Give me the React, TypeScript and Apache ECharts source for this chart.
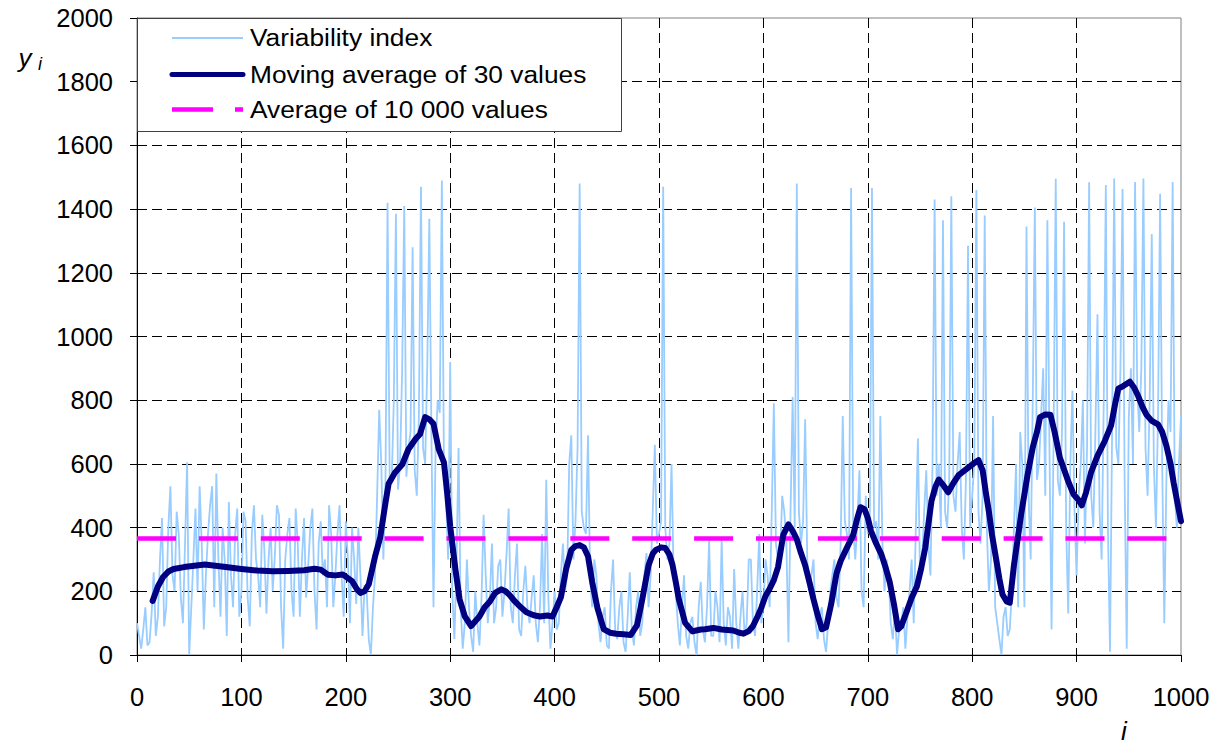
import React, { useEffect, useRef } from "react";
import * as echarts from "echarts";

// ---------- data ----------
const VAR_STEP = 2; // variability index read every 2 values of i
const variabilityIndex: number[] = [
  // 0 - 98
  100, 60, 20, 80, 150, 30, 40, 130, 260, 60, 120, 300, 430, 90, 150, 400, 530, 250, 200, 450,
  380, 180, 100, 350, 605, 0, 150, 300, 460, 200, 530, 350, 80, 250, 380, 470, 530, 150, 570, 300,
  120, 400, 300, 60, 480, 250, 150, 380, 460, 120,
  // 100 - 198
  200, 450, 420, 180, 90, 380, 470, 300, 250, 150, 440, 330, 130, 300, 400, 200, 310, 470, 440, 150,
  20, 300, 380, 430, 200, 120, 460, 350, 120, 300, 430, 180, 280, 400, 460, 200, 80, 350, 420, 250,
  300, 150, 470, 380, 150, 250, 380, 470, 250, 120,
  // 200 - 298
  420, 300, 100, 400, 300, 160, 400, 250, 60, 220, 200, 50, 0, 150, 250, 500, 770, 600, 300, 550,
  1420, 560, 550, 800, 1385, 520, 600, 900, 1410, 560, 650, 700, 1280, 580, 500, 750, 1470, 650, 600, 900,
  1370, 700, 150, 650, 800, 760, 1490, 600, 500, 300,
  // 300 - 398
  920, 200, 50, 280, 650, 150, 20, 100, 300, 150, 60, 10, 200, 100, 30, 180, 440, 250, 100, 180,
  350, 100, 150, 280, 300, 120, 200, 320, 460, 150, 100, 250, 350, 80, 60, 200, 280, 150, 100, 180,
  250, 100, 40, 150, 380, 100, 550, 180, 20, 100,
  // 400 - 498
  200, 80, 100, 250, 350, 200, 250, 600, 690, 300, 420, 650, 1480, 450, 400, 380, 690, 250, 150, 300,
  250, 100, 40, 120, 150, 30, 20, 200, 300, 80, 50, 150, 200, 40, 10, 120, 260, 80, 30, 150,
  200, 60, 100, 250, 320, 150, 250, 450, 660, 350,
  // 500 - 598
  380, 420, 1470, 400, 300, 350, 600, 250, 200, 100, 30, 150, 250, 60, 20, 100, 120, 40, 0, 150,
  230, 80, 40, 150, 360, 60, 60, 200, 150, 40, 360, 100, 30, 150, 120, 20, 270, 100, 20, 120,
  200, 60, 100, 300, 300, 100, 60, 200, 380, 100,
  // 600 - 698
  150, 300, 250, 150, 450, 790, 350, 300, 300, 500, 450, 350, 40, 450, 810, 400, 1480, 450, 350, 420,
  740, 300, 200, 250, 300, 100, 50, 120, 150, 50, 10, 100, 200, 250, 300, 180, 150, 350, 750, 420,
  380, 300, 1466, 400, 300, 420, 580, 200, 150, 500,
  // 700 - 798
  380, 450, 1466, 400, 420, 300, 750, 350, 200, 300, 250, 100, 50, 150, 0, 80, 100, 150, 20, 120,
  200, 300, 100, 400, 680, 250, 300, 450, 580, 350, 250, 600, 1430, 500, 600, 400, 1365, 450, 400, 550,
  1440, 500, 450, 600, 700, 400, 300, 550, 1285, 400,
  // 800 - 898
  500, 600, 1460, 450, 350, 500, 1380, 400, 200, 300, 750, 150, 100, 50, 0, 120, 150, 60, 80, 200,
  400, 600, 150, 700, 600, 150, 1345, 500, 300, 800, 1405, 550, 600, 750, 900, 500, 1365, 650, 80, 700,
  1495, 550, 500, 700, 1360, 400, 130, 600, 830, 450,
  // 900 - 1000
  250, 500, 600, 800, 350, 650, 1484, 500, 400, 700, 1070, 450, 300, 800, 1476, 400, 10, 700, 1496, 650,
  600, 900, 1463, 550, 20, 750, 900, 600, 1485, 850, 700, 900, 1496, 650, 500, 800, 1322, 600, 400, 750,
  1448, 600, 100, 550, 800, 700, 1485, 500, 400, 600, 750,
];

const movingAvgI: number[] = [
  15, 20, 25, 30, 35, 45, 55, 65, 75, 85, 100, 115, 130, 145, 160, 170, 176, 183, 190, 197, 206, 211, 214, 218, 222, 228, 233,
  238, 241, 247, 254, 260, 267, 271, 276, 280, 284, 289, 294, 297, 300, 305, 309, 314, 320, 328, 333, 338, 343, 349, 353, 357,
  362, 366, 373, 380, 386, 393, 398, 402, 406, 411, 416, 420, 424, 428, 432, 436, 441, 447, 453, 459, 466, 473, 479, 484, 490,
  494, 497, 502, 506, 510, 513, 516, 519, 525, 532, 540, 544, 552, 560, 571, 577, 581, 586, 590, 595, 598, 602, 606, 610, 614,
  619, 624, 628, 632, 636, 640, 644, 648, 652, 656, 660, 665, 670, 674, 678, 686, 690, 693, 697, 700, 703, 708, 713, 717, 721,
  725, 729, 732, 737, 742, 747, 751, 755, 758, 761, 765, 768, 773, 777, 782, 787, 791, 795, 800, 806, 810, 813, 816, 819, 823,
  826, 829, 833, 836, 840, 847, 853, 858, 862, 865, 870, 875, 879, 884, 887, 892, 897, 901, 905, 909, 914, 920, 927, 933, 937,
  940, 945, 951, 955, 959, 963, 967, 972, 978, 982, 986, 990, 993, 997, 1000,
];
const movingAvgY: number[] = [
  170, 215, 245, 262, 270, 276, 280, 284, 280, 276, 270, 265, 263, 264, 266, 271, 268, 252, 250, 253, 232, 205, 195, 200, 222, 309, 370,
  478, 538, 572, 598, 646, 679, 693, 747, 740, 726, 646, 605, 511, 404, 269, 175, 121, 91, 121, 150, 168, 195, 206, 200, 188,
  168, 155, 134, 125, 121, 124, 121, 150, 181, 269, 330, 342, 345, 338, 310, 229, 148, 81, 70, 67, 65, 63, 94, 175, 282,
  318, 330, 338, 336, 315, 282, 230, 175, 101, 74, 80, 81, 85, 80, 77, 70, 67, 75, 91, 125, 148, 185, 208, 235, 276,
  377, 410, 390, 363, 320, 282, 230, 175, 125, 81, 87, 161, 256, 295, 323, 377, 430, 464, 457, 430, 390, 350, 316, 275, 229,
  160, 81, 90, 134, 180, 215, 270, 336, 410, 484, 530, 551, 530, 511, 540, 565, 575, 585, 598, 612, 580, 511, 450, 377, 300,
  240, 190, 168, 164, 282, 444, 565, 652, 700, 747, 755, 754, 699, 619, 592, 545, 505, 490, 470, 510, 575, 625, 672, 720, 790,
  836, 845, 858, 840, 813, 780, 754, 735, 724, 700, 657, 600, 540, 470, 420,
];

const AVERAGE_10000 = 366;
const X_MIN = 0;
const X_MAX = 1000;
const X_INTERVAL = 100;
const Y_MIN = 0;
const Y_MAX = 2000;
const Y_INTERVAL = 200;

const legendLabels = ["Variability index", "Moving average of 30 values", "Average of 10 000 values"];

// ---------- styles ----------
const FONT = '"Liberation Sans", Arial, Helvetica, sans-serif';
const LIGHT_BLUE = "#99CCFF";
const NAVY = "#000080";
const MAGENTA = "#FF00FF";

export default function App() {
  const ref = useRef<HTMLDivElement>(null);

  useEffect(() => {
    if (!ref.current) return;
    const chart = echarts.init(ref.current, undefined, { renderer: "svg" });

    const varData = variabilityIndex.map((v, k) => [k * VAR_STEP, v]);
    const maData = movingAvgI.map((i, k) => [i, movingAvgY[k]]);
    const avgData = [
      [X_MIN, AVERAGE_10000],
      [X_MAX, AVERAGE_10000],
    ];

    const gridLine = { color: "#000", width: 1, type: [10, 5] as number[] };
    const plain = (v: number) => String(v);

    const legendRowsY = [38, 74.5, 109.5];

    const option: any = {
      animation: false,
      backgroundColor: "#ffffff",
      grid: {
        left: 137,
        right: 43,
        top: 18,
        bottom: 92,
        show: true,
        borderColor: "#808080",
        borderWidth: 1,
        backgroundColor: "transparent",
      },
      xAxis: {
        type: "value",
        min: X_MIN,
        max: X_MAX,
        interval: X_INTERVAL,
        axisLine: { show: true, onZero: false, lineStyle: { color: "#000", width: 1 } },
        axisTick: { show: true, length: 7, lineStyle: { color: "#000" } },
        axisLabel: { color: "#000", fontSize: 25.5, fontFamily: FONT, margin: 29, formatter: plain },
        splitLine: { show: true, showMinLine: false, showMaxLine: false, lineStyle: gridLine },
      },
      yAxis: {
        type: "value",
        min: Y_MIN,
        max: Y_MAX,
        interval: Y_INTERVAL,
        axisLine: { show: true, onZero: false, lineStyle: { color: "#000", width: 1 } },
        axisTick: { show: true, length: 7, lineStyle: { color: "#000" } },
        axisLabel: { color: "#000", fontSize: 25.5, fontFamily: FONT, margin: 24, formatter: plain },
        splitLine: { show: true, showMinLine: false, showMaxLine: false, lineStyle: gridLine },
      },
      series: [
        {
          name: legendLabels[0],
          type: "line",
          data: varData,
          showSymbol: false,
          symbol: "none",
          lineStyle: { color: LIGHT_BLUE, width: 1.8 },
          z: 2,
        },
        {
          name: legendLabels[2],
          type: "line",
          data: avgData,
          showSymbol: false,
          symbol: "none",
          lineStyle: { color: MAGENTA, width: 4.5, type: [39, 22.9] },
          z: 3,
        },
        {
          name: legendLabels[1],
          type: "line",
          data: maData,
          showSymbol: false,
          symbol: "none",
          lineStyle: { color: NAVY, width: 6, cap: "round", join: "round" },
          z: 4,
        },
      ],
      graphic: [
        {
          type: "rect",
          z: 100,
          shape: { x: 137.5, y: 18.5, width: 484, height: 113 },
          style: { fill: "#fff", stroke: "#404040", lineWidth: 1 },
        },
        {
          type: "line",
          z: 101,
          shape: { x1: 172, y1: legendRowsY[0], x2: 243, y2: legendRowsY[0] },
          style: { stroke: LIGHT_BLUE, lineWidth: 2 },
        },
        {
          type: "line",
          z: 101,
          shape: { x1: 172, y1: legendRowsY[1], x2: 243, y2: legendRowsY[1] },
          style: { stroke: NAVY, lineWidth: 5, lineCap: "round" },
        },
        {
          type: "line",
          z: 101,
          shape: { x1: 172, y1: legendRowsY[2], x2: 243, y2: legendRowsY[2] },
          style: { stroke: MAGENTA, lineWidth: 4.5, lineDash: [41, 22] },
        },
        ...legendLabels.map((t, k) => ({
          type: "text",
          z: 101,
          x: 250,
          y: legendRowsY[k],
          scaleX: 1.12,
          style: {
            text: t,
            fill: "#000",
            fontSize: 23.5,
            fontFamily: FONT,
            align: "left",
            verticalAlign: "middle",
          },
        })),
        {
          type: "text",
          z: 101,
          x: 25,
          y: 58,
          style: {
            text: "y",
            fill: "#000",
            fontSize: 26,
            fontStyle: "italic",
            fontFamily: FONT,
            align: "center",
            verticalAlign: "middle",
          },
        },
        {
          type: "text",
          z: 101,
          x: 40,
          y: 64,
          style: {
            text: "i",
            fill: "#000",
            fontSize: 18,
            fontStyle: "italic",
            fontFamily: FONT,
            align: "center",
            verticalAlign: "middle",
          },
        },
        {
          type: "text",
          z: 101,
          x: 1124,
          y: 731,
          style: {
            text: "i",
            fill: "#000",
            fontSize: 26,
            fontStyle: "italic",
            fontFamily: FONT,
            align: "center",
            verticalAlign: "middle",
          },
        },
      ],
    };

    chart.setOption(option);
    return () => chart.dispose();
  }, []);

  return (
    <div
      ref={ref}
      style={{ position: "fixed", left: 0, top: 0, width: 1224, height: 747, background: "#fff" }}
    />
  );
}
